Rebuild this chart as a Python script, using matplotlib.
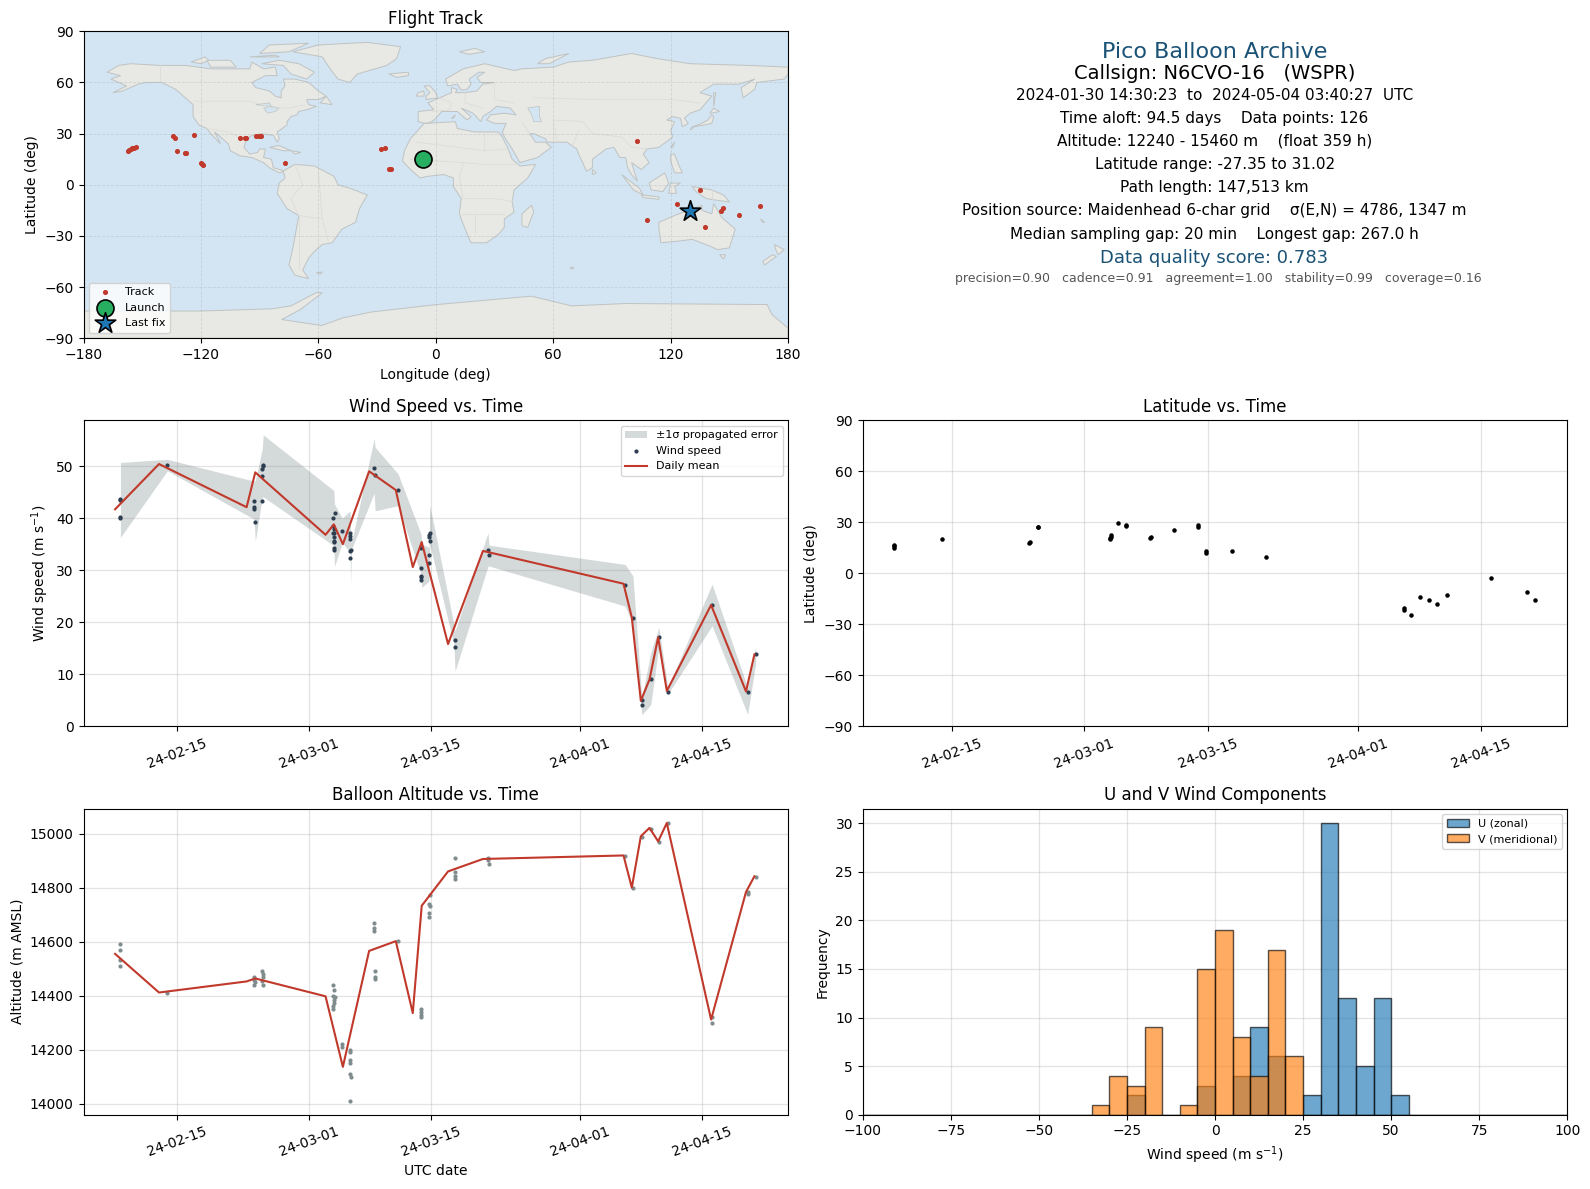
import matplotlib
matplotlib.use("Agg")
import matplotlib.pyplot as plt
import matplotlib.dates as mdates
from matplotlib.patches import Polygon
import numpy as np

# time values are days since 2024-02-01 00:00 UTC
BASE = mdates.date2num(np.datetime64("2024-02-01"))

wind_day = [7.50, 7.50, 7.50, 7.50, 12.86, 22.79, 22.79, 22.79, 22.91, 23.71, 23.71, 23.71, 23.82, 23.82,
            31.81, 31.81, 31.81, 32.04, 31.89, 31.89, 31.89, 31.89, 31.96, 31.96, 31.96, 32.84,
            33.75, 33.75, 33.75, 33.75, 33.75, 33.90, 36.49, 36.61, 39.23,
            41.86, 41.86, 41.86, 41.86, 41.86, 42.77, 42.77, 42.85, 42.85, 42.72, 42.72,
            45.74, 45.74, 49.51, 49.62, 65.18, 66.06, 67.09, 67.09, 68.11, 69.03, 70.06, 75.11, 79.18, 80.10]
wind_ms = [43.7, 43.4, 40.2, 40.1, 50.2, 43.3, 42.1, 41.7, 39.2, 43.3, 48.1, 49.4, 50.3, 50.0,
           40.0, 38.5, 37.1, 41.0, 37.9, 36.3, 35.6, 34.2, 37.2, 35.4, 33.8, 37.5,
           37.2, 36.6, 36.0, 33.7, 32.3, 33.8, 49.6, 48.3, 45.4,
           34.2, 30.5, 28.9, 28.6, 28.2, 32.9, 31.3, 37.1, 35.6, 36.8, 36.3,
           16.5, 15.2, 33.8, 32.9, 27.1, 20.8, 5.1, 4.0, 9.0, 17.1, 6.5, 23.3, 6.5, 13.8]

band_day = [7.50, 12.86, 22.79, 22.91, 23.71, 23.82, 31.89, 31.96, 32.84, 33.75, 33.80, 33.90, 36.49, 36.61,
            39.23, 41.86, 41.93, 42.77, 42.85, 45.60, 45.74, 49.51, 49.62, 65.18, 66.06, 67.09, 68.11,
            69.03, 70.06, 75.11, 79.18, 80.10]
band_low = [36.3, 49.1, 39.8, 35.5, 44.0, 44.1, 34.7, 30.7, 35.3, 33.4, 27.2, 34.0, 44.8, 41.4,
            42.4, 29.2, 26.7, 27.9, 35.0, 15.8, 10.6, 30.8, 30.8, 23.1, 19.6, 2.2, 4.2,
            15.4, 6.2, 19.3, 2.3, 12.2]
band_high = [50.7, 51.3, 47.1, 47.2, 53.3, 56.0, 45.3, 42.7, 40.0, 41.4, 35.6, 35.3, 55.2, 53.6,
             48.5, 36.9, 35.0, 34.4, 42.5, 19.6, 18.3, 37.2, 34.8, 31.1, 28.9, 5.5, 14.2,
             19.0, 7.4, 27.3, 7.4, 15.4]

mean_wind_day = [6.89, 11.91, 21.92, 22.91, 30.94, 31.89, 32.92, 35.92, 38.97, 40.91, 41.93, 44.94, 48.93,
                 64.99, 65.94, 66.97, 67.96, 68.95, 69.94, 75.00, 78.99, 79.95]
mean_wind = [41.7, 50.4, 42.1, 48.8, 36.8, 38.8, 35.0, 49.0, 45.4, 30.6, 35.4, 15.8, 33.7,
             27.4, 20.9, 4.9, 9.0, 17.1, 6.8, 23.3, 6.7, 13.8]

alt_day = [7.50, 7.50, 7.50, 7.50, 12.86, 22.79, 22.79, 22.91, 22.79, 23.71, 23.82, 23.82, 23.71, 23.82,
           31.81, 31.92, 31.81, 32.04, 31.89, 31.89, 31.81, 31.81, 32.84, 32.84,
           33.75, 33.75, 33.75, 33.75, 33.75, 33.90, 33.75, 36.49, 36.49, 36.49, 36.61, 36.61, 36.61, 39.23,
           41.86, 41.86, 41.86, 41.86, 42.85, 42.77, 42.85, 42.77, 42.77,
           45.74, 45.74, 45.74, 45.74, 49.51, 49.51, 49.62, 65.18, 66.06, 67.09, 68.11, 69.03, 70.06,
           75.11, 75.11, 79.18, 79.18, 80.10]
alt_m = [14590, 14568, 14532, 14509, 14410, 14469, 14459, 14450, 14439, 14491, 14480, 14469, 14453, 14440,
         14439, 14422, 14400, 14394, 14383, 14373, 14361, 14351, 14222, 14211,
         14200, 14191, 14161, 14151, 14112, 14101, 14012, 14671, 14649, 14639, 14491, 14469, 14461, 14602,
         14351, 14340, 14330, 14320, 14772, 14741, 14733, 14708, 14690,
         14910, 14859, 14842, 14831, 14910, 14901, 14888, 14918, 14800, 14987, 15017, 14968, 15039,
         14321, 14299, 14784, 14777, 14840]

mean_alt_day = [6.89, 11.91, 21.92, 22.91, 30.94, 32.92, 35.92, 38.97, 40.91, 41.93, 44.94, 48.93,
                64.99, 65.94, 66.97, 67.96, 68.95, 69.94, 75.00, 78.99, 79.95]
mean_alt = [14555, 14412, 14453, 14464, 14398, 14137, 14566, 14602, 14336, 14733, 14860, 14906,
            14919, 14800, 14990, 15021, 14971, 15039, 14312, 14784, 14842]

lat_day = [7.50, 7.50, 7.50, 12.86, 22.79, 22.91, 23.71, 23.82, 31.89, 31.89, 32.07, 32.07, 32.84, 33.75, 33.75,
           36.49, 36.61, 39.23, 41.86, 41.86, 42.77, 42.85, 45.74, 49.55,
           65.18, 65.18, 66.06, 67.09, 68.11, 69.03, 70.06, 75.11, 79.18, 80.10]
lat_deg = [16.7, 15.8, 14.9, 20.0, 18.0, 18.4, 27.0, 27.3, 20.0, 20.6, 21.6, 22.4, 29.4, 28.0, 28.4,
           20.6, 21.4, 25.3, 27.0, 28.2, 13.0, 11.9, 12.9, 9.4,
           -20.6, -21.4, -24.7, -14.1, -15.9, -18.2, -12.9, -2.9, -11.2, -15.9]

hist_edges = list(range(-100, 105, 5))
u_counts = [0] * 15 + [2, 0, 0, 0, 3, 0, 4, 9, 6, 0, 2, 30, 12, 5, 12, 2] + [0] * 9
v_counts = [0] * 13 + [1, 4, 3, 9, 0, 1, 15, 19, 8, 4, 17, 6] + [0] * 15

track_lon = [-157.5, -156.6, -155.8, -155.0, -154.3, -153.1, -134.1, -133.4, -123.5, -132.0, -128.1, -127.4,
             -120.2, -119.4, -118.7, -100.2, -97.5, -96.8, -91.7, -90.5, -89.3, -76.8, -28.2, -25.8, -23.8, -22.9,
             102.6, 107.9, 123.0, 135.1, 137.3, 145.7, 146.6, 154.8, 165.4]
track_lat = [19.9, 20.4, 20.9, 21.3, 21.7, 22.3, 28.7, 27.6, 29.3, 19.9, 18.4, 18.8,
             12.9, 12.3, 11.7, 27.6, 27.6, 27.6, 28.7, 28.7, 28.7, 12.9, 20.7, 21.7, 9.4, 9.4,
             25.8, -20.5, -11.1, -2.9, -24.6, -15.4, -13.5, -17.6, -12.3]
launch_lon, launch_lat = -6.5, 15.2
last_lon, last_lat = 129.8, -15.4

# coarse coastlines (lon, lat)
north_america = [(-168, 66), (-162, 70), (-156, 71), (-141, 70), (-128, 70), (-115, 68), (-108, 68), (-95, 68),
                 (-94, 72), (-88, 68), (-82, 69), (-81, 64), (-87, 64), (-94, 60), (-92, 57), (-85, 55), (-82, 52),
                 (-79, 51), (-79, 55), (-77, 58), (-78, 62), (-72, 62), (-65, 60), (-60, 55), (-56, 52), (-60, 50),
                 (-66, 50), (-65, 47), (-61, 46), (-66, 44), (-70, 43), (-71, 41), (-74, 40), (-76, 37), (-76, 35),
                 (-81, 31), (-80, 27), (-81, 25), (-83, 29), (-89, 30), (-94, 29), (-97, 26), (-98, 22), (-95, 18),
                 (-91, 19), (-90, 21), (-87, 21), (-88, 16), (-84, 15), (-83, 10), (-80, 9), (-77, 8), (-80, 7),
                 (-85, 10), (-88, 13), (-94, 16), (-100, 17), (-105, 20), (-106, 24), (-112, 30), (-113, 31),
                 (-110, 24), (-115, 30), (-117, 33), (-121, 35), (-124, 40), (-124, 47), (-128, 51), (-133, 56),
                 (-140, 60), (-148, 60), (-152, 59), (-160, 55), (-165, 54), (-158, 58), (-162, 60), (-166, 62),
                 (-161, 64)]
greenland = [(-73, 78), (-60, 82), (-35, 83.5), (-18, 81), (-20, 74), (-25, 70), (-40, 65), (-44, 60), (-50, 62),
             (-54, 68), (-58, 75)]
baffin = [(-80, 73), (-70, 71), (-62, 66), (-66, 62), (-74, 65), (-78, 70), (-89, 71)]
victoria = [(-117, 73), (-105, 73), (-102, 69), (-115, 69)]
ellesmere = [(-90, 77), (-85, 82), (-65, 83), (-75, 78)]
banks = [(-125, 72), (-118, 75), (-116, 73), (-120, 71)]
devon = [(-95, 75), (-82, 76), (-80, 75)]
newfoundland = [(-59, 48), (-56, 52), (-53, 47)]
south_america = [(-78, 8), (-72, 12), (-62, 11), (-52, 5), (-50, 0), (-44, -2), (-35, -6), (-39, -14), (-41, -22),
                 (-48, -26), (-53, -34), (-58, -35), (-62, -39), (-65, -43), (-68, -50), (-65, -55), (-72, -53),
                 (-75, -47), (-73, -37), (-70, -18), (-76, -14), (-81, -5), (-80, 1), (-77, 4)]
africa = [(-6, 36), (10, 37), (11, 33), (20, 31), (32, 31), (34, 28), (37, 21), (39, 15), (43, 11), (51, 12), (47, 4),
          (40, -3), (39, -10), (40, -16), (35, -20), (35, -25), (32, -29), (26, -34), (18, -34), (15, -26), (12, -17),
          (13, -8), (9, -1), (9, 4), (4, 6), (-4, 5), (-8, 4), (-13, 9), (-17, 14), (-16, 20), (-13, 27), (-9, 32)]
eurasia = [(-9, 37), (-9, 43), (-1, 44), (-4, 48), (2, 51), (8, 54), (8, 57), (11, 56), (10, 54), (14, 54), (21, 55),
           (24, 59), (30, 60), (23, 60), (21, 63), (25, 66), (22, 66), (17, 62), (18, 59), (16, 56), (13, 55.5),
           (11, 59), (6, 58), (5, 62), (14, 68), (25, 71), (40, 67), (44, 68), (60, 69), (68, 72), (80, 73), (100, 77),
           (113, 74), (130, 71), (160, 70), (180, 69), (180, 65), (178, 62), (164, 60), (163, 56), (157, 51), (156, 57),
           (163, 62), (155, 59), (142, 59), (135, 54), (141, 52), (135, 44), (130, 42), (127, 39), (129, 36), (126, 34),
           (125, 39), (121, 40), (118, 38), (122, 37), (120, 32), (121, 28), (114, 22), (108, 21), (106, 18), (109, 13),
           (105, 9), (100, 13), (103, 2), (100, 6), (98, 10), (97, 16), (94, 16), (91, 22), (87, 21), (80, 15), (80, 10),
           (77, 8), (73, 18), (72, 21), (67, 25), (57, 25), (56, 27), (50, 30), (48, 30), (51, 25), (56, 25), (59, 22),
           (52, 16), (43, 13), (39, 21), (35, 28), (34, 31), (36, 36), (30, 36), (26, 38), (28, 41), (35, 42), (41, 41),
           (38, 45), (31, 46), (28, 43), (24, 40), (23, 37), (19, 42), (13, 45), (18, 40), (16, 38), (11, 43), (3, 43),
           (0, 39), (-2, 37), (-5, 36)]
australia = [(114, -22), (122, -18), (129, -15), (136, -12), (136, -15), (141, -17), (142, -11), (146, -19), (153, -26),
             (150, -37), (144, -38), (138, -35), (131, -32), (124, -33), (115, -34), (114, -26)]
antarctica = [(-180, -90), (-180, -74), (-120, -74), (-83.6, -72.7), (-74, -71), (-60.7, -63), (-58, -63.3), (-69, -73),
              (-78.7, -79), (-58.3, -82.5), (-47.4, -78), (-33, -74.6), (0.7, -70.2), (48.9, -65.3), (69.3, -71),
              (97, -69.6), (169.3, -70.2), (171.7, -76), (180, -84), (180, -90)]
islands = [
    [(130, 32), (132, 34), (137, 35), (141, 36), (142, 40), (141, 41), (139, 38), (135, 35.5), (131, 34)],
    [(140, 42), (142, 45), (145, 43), (141, 42)],
    [(142, 46), (143, 54), (142, 54)],
    [(120, 18), (122, 18), (124, 12), (126, 7), (122, 7), (120, 14)],
    [(109, 1), (117, 7), (119, 1), (116, -4), (110, -3)],
    [(95, 6), (104, -2), (106, -6), (101, -3)],
    [(105, -6), (114, -7), (114, -8.5), (106, -7.5)],
    [(119, -5), (120, 1), (125, 1), (122, -1), (123, -5)],
    [(131, -1), (141, -3), (147, -6), (150, -10), (143, -9), (138, -8), (133, -4)],
    [(145, -41), (148, -41), (147, -43.5)],
    [(173, -35), (178, -38), (175, -41), (174, -39)],
    [(172, -41), (174, -42), (168, -47), (167, -45)],
    [(49, -12), (50, -16), (47, -25), (44, -24), (44, -17)],
    [(-5, 50), (1, 51), (0, 54), (-3, 58), (-6, 58), (-3, 54), (-5, 52)],
    [(-10, 52), (-6, 52), (-6, 55), (-9, 54)],
    [(-24, 65), (-14, 66), (-14, 64), (-20, 63)],
    [(52, 71), (56, 74), (68, 77), (58, 71)],
    [(80, 9), (82, 7), (80, 6)],
    [(-85, 22), (-80, 23), (-74, 20), (-78, 20)],
    [(-74, 20), (-69, 19), (-72, 18)],
    [(12, 78), (20, 80), (25, 78), (17, 76.5)],
    [(120, 22), (122, 25), (121, 22)],
    [(8, 39), (10, 41), (9, 39)],
    [(166, -20), (168, -22), (167, -22)],
    [(68.5, -48.5), (70.5, -48.5), (70, -49.5)],
    [(-61, -51.5), (-58, -51.2), (-59, -52.3)],
]
water = [
    [(47, 45), (53, 46), (53, 40), (54, 37), (50, 37), (49, 41)],
    [(-92, 47), (-85, 48), (-84, 46), (-88, 46.5)],
    [(-88, 45), (-84, 46), (-80, 45), (-82, 43), (-86, 42)],
]
borders = [
    [(-141, 70), (-141, 60)], [(-123, 49), (-95, 49), (-83, 45), (-75, 45), (-67, 47)],
    [(-117, 33), (-106, 31), (-97, 26)], [(-70, -18), (-58, -20), (-55, -33)],
    [(-70, -18), (-70, -50)], [(-72, 12), (-68, 0), (-74, -8), (-70, -18)], [(-60, 8), (-58, -20)],
    [(-10, 25), (25, 20), (25, 31)], [(25, 20), (37, 21)], [(-13, 15), (14, 13), (24, 12), (42, 12)],
    [(14, 13), (12, 4), (14, -8), (30, -8), (40, -10)], [(12, -17), (35, -17)], [(20, -17), (20, -28)],
    [(30, 60), (30, 50), (40, 48)], [(50, 51), (85, 50), (120, 50), (135, 48)],
    [(60, 38), (75, 37), (80, 30), (95, 28), (100, 22), (108, 21)],
    [(48, 30), (44, 37)], [(62, 25), (60, 37)], [(15, 54), (15, 48), (24, 45)], [(-2, 43), (7, 44), (8, 48), (2, 51)],
    [(73, 32), (70, 23)], [(141, -3), (141, -9)],
]

land_polys = [north_america, greenland, baffin, victoria, ellesmere, banks, devon, newfoundland, south_america,
              africa, eurasia, australia, antarctica] + islands

red = "#c0392b"
navy = "#2c3e50"
grey = "#7f8c8d"
title_blue = "#1a5276"

W, H = 1590, 1189


def place(left, top, right, bottom):
    return fig.add_axes([left / W, 1 - bottom / H, (right - left) / W, (bottom - top) / H])


def date_axis(ax, start=3.28, end=83.8):
    ax.set_xlim(BASE + start, BASE + end)
    ax.xaxis.set_major_locator(mdates.DayLocator(bymonthday=[1, 15]))
    ax.xaxis.set_major_formatter(mdates.DateFormatter("%y-%m-%d"))
    ax.tick_params(axis="x", labelrotation=20)
    ax.grid(True, color="#b0b0b0", alpha=0.35, lw=0.9)
    ax.set_axisbelow(True)


def days(values):
    return BASE + np.array(values)


fig = plt.figure(figsize=(W / 100, H / 100), dpi=100)

colL, colR = (83.5, 788.1), (862.7, 1567.3)

# map
ax = place(colL[0], 31.3, colL[1], 338.3)
ax.set_facecolor("#d3e5f2")
for poly in land_polys:
    ax.add_patch(Polygon(poly, closed=True, facecolor="#e8e8e4", edgecolor="#bfc3c3", lw=0.7, zorder=1))
for poly in water:
    ax.add_patch(Polygon(poly, closed=True, facecolor="#d3e5f2", edgecolor="#bfc3c3", lw=0.5, zorder=1))
for line in borders:
    xs, ys = zip(*line)
    ax.plot(xs, ys, color="#dcdcd8", lw=0.6, zorder=1.5)
ax.scatter(track_lon, track_lat, s=7, color=red, label="Track", zorder=3)
ax.scatter([launch_lon], [launch_lat], s=150, color="#27ae60", edgecolor="black", lw=1.2, label="Launch", zorder=4)
ax.scatter([last_lon], [last_lat], s=240, color="#1f77b4", marker="*", edgecolor="black", lw=1.2, label="Last fix", zorder=5)
ax.set_xlim(-180, 180)
ax.set_ylim(-90, 90)
ax.set_xticks(range(-180, 181, 60))
ax.set_yticks(range(-90, 91, 30))
ax.xaxis.set_major_formatter(lambda v, pos: f"{v:.0f}".replace("-", "\u2212"))
ax.yaxis.set_major_formatter(lambda v, pos: f"{v:.0f}".replace("-", "\u2212"))
ax.grid(True, color="#9aa5a8", alpha=0.3, lw=0.6, ls="--", zorder=2)
ax.set_xlabel("Longitude (deg)")
ax.set_ylabel("Latitude (deg)")
ax.set_title("Flight Track", pad=5)
ax.legend(loc="lower left", fontsize=8)

# summary text
center_px = (colR[0] + colR[1]) / 2
summary = [
    (51.5, 0, "Pico Balloon Archive", 16, title_blue),
    (73.8, 0, "Callsign: N6CVO-16   (WSPR)", 14, "black"),
    (95.2, 0, "2024-01-30 14:30:23  to  2024-05-04 03:40:27  UTC", 11, "black"),
    (118.0, -1, "Time aloft: 94.5 days    Data points: 126", 11, "black"),
    (141.2, 0, "Altitude: 12240 - 15460 m    (float 359 h)", 11, "black"),
    (164.0, 0, "Latitude range: -27.35 to 31.02", 11, "black"),
    (187.4, -1, "Path length: 147,513 km", 11, "black"),
    (210.6, -1, "Position source: Maidenhead 6-char grid    \u03c3(E,N) = 4786, 1347 m", 11, "black"),
    (234.0, -1, "Median sampling gap: 20 min    Longest gap: 267.0 h", 11, "black"),
    (258.4, -1, "Data quality score: 0.783", 13, title_blue),
    (278.7, 3, "precision=0.90   cadence=0.91   agreement=1.00   stability=0.99   coverage=0.16", 9, "#555555"),
]
for y_px, dx_px, text, size, colour in summary:
    fig.text((center_px + dx_px) / W, 1 - y_px / H, text, fontsize=size, color=colour, ha="center", va="center")

# wind speed
ax = place(colL[0], 420.3, colL[1], 726.3)
ax.fill_between(days(band_day), band_low, band_high, color=grey, alpha=0.33, lw=0, label="\u00b11\u03c3 propagated error")
ax.scatter(days(wind_day), wind_ms, s=4, color=navy, label="Wind speed", zorder=3)
ax.plot(days(mean_wind_day), mean_wind, color=red, lw=1.5, label="Daily mean", zorder=4)
date_axis(ax)
ax.set_ylim(0, 58.8)
ax.set_ylabel("Wind speed (m s$^{-1}$)")
ax.set_title("Wind Speed vs. Time")
ax.legend(loc="upper right", fontsize=8)

# latitude
ax = place(colR[0], 420.3, colR[1], 726.3)
ax.scatter(days(lat_day), lat_deg, s=5, color="black", zorder=3)
date_axis(ax, 3.9, 83.74)
ax.set_ylim(-90, 90)
ax.set_yticks(range(-90, 91, 30))
ax.set_ylabel("Latitude (deg)")
ax.set_title("Latitude vs. Time")

# altitude
ax = place(colL[0], 808.7, colL[1], 1114.7)
ax.scatter(days(alt_day), alt_m, s=4, color=grey, zorder=3)
ax.plot(days(mean_alt_day), mean_alt, color=red, lw=1.5, zorder=4)
date_axis(ax)
ax.set_ylim(13960, 15092)
ax.set_yticks(range(14000, 15001, 200))
ax.set_xlabel("UTC date")
ax.set_ylabel("Altitude (m AMSL)")
ax.set_title("Balloon Altitude vs. Time")

# U / V histogram
ax = place(colR[0], 808.7, colR[1], 1114.7)
ax.bar(hist_edges[:-1], u_counts, width=5, align="edge", color="#1f77b4", alpha=0.65, edgecolor="black", label="U (zonal)")
ax.bar(hist_edges[:-1], v_counts, width=5, align="edge", color="#ff7f0e", alpha=0.65, edgecolor="black", label="V (meridional)")
ax.set_xlim(-100, 100)
ax.set_ylim(0, 31.5)
ax.grid(True, color="#b0b0b0", alpha=0.35, lw=0.9)
ax.set_axisbelow(True)
ax.set_xlabel("Wind speed (m s$^{-1}$)")
ax.set_ylabel("Frequency")
ax.set_title("U and V Wind Components")
ax.legend(loc="upper right", fontsize=8)

fig.savefig("out.png", dpi=100)
